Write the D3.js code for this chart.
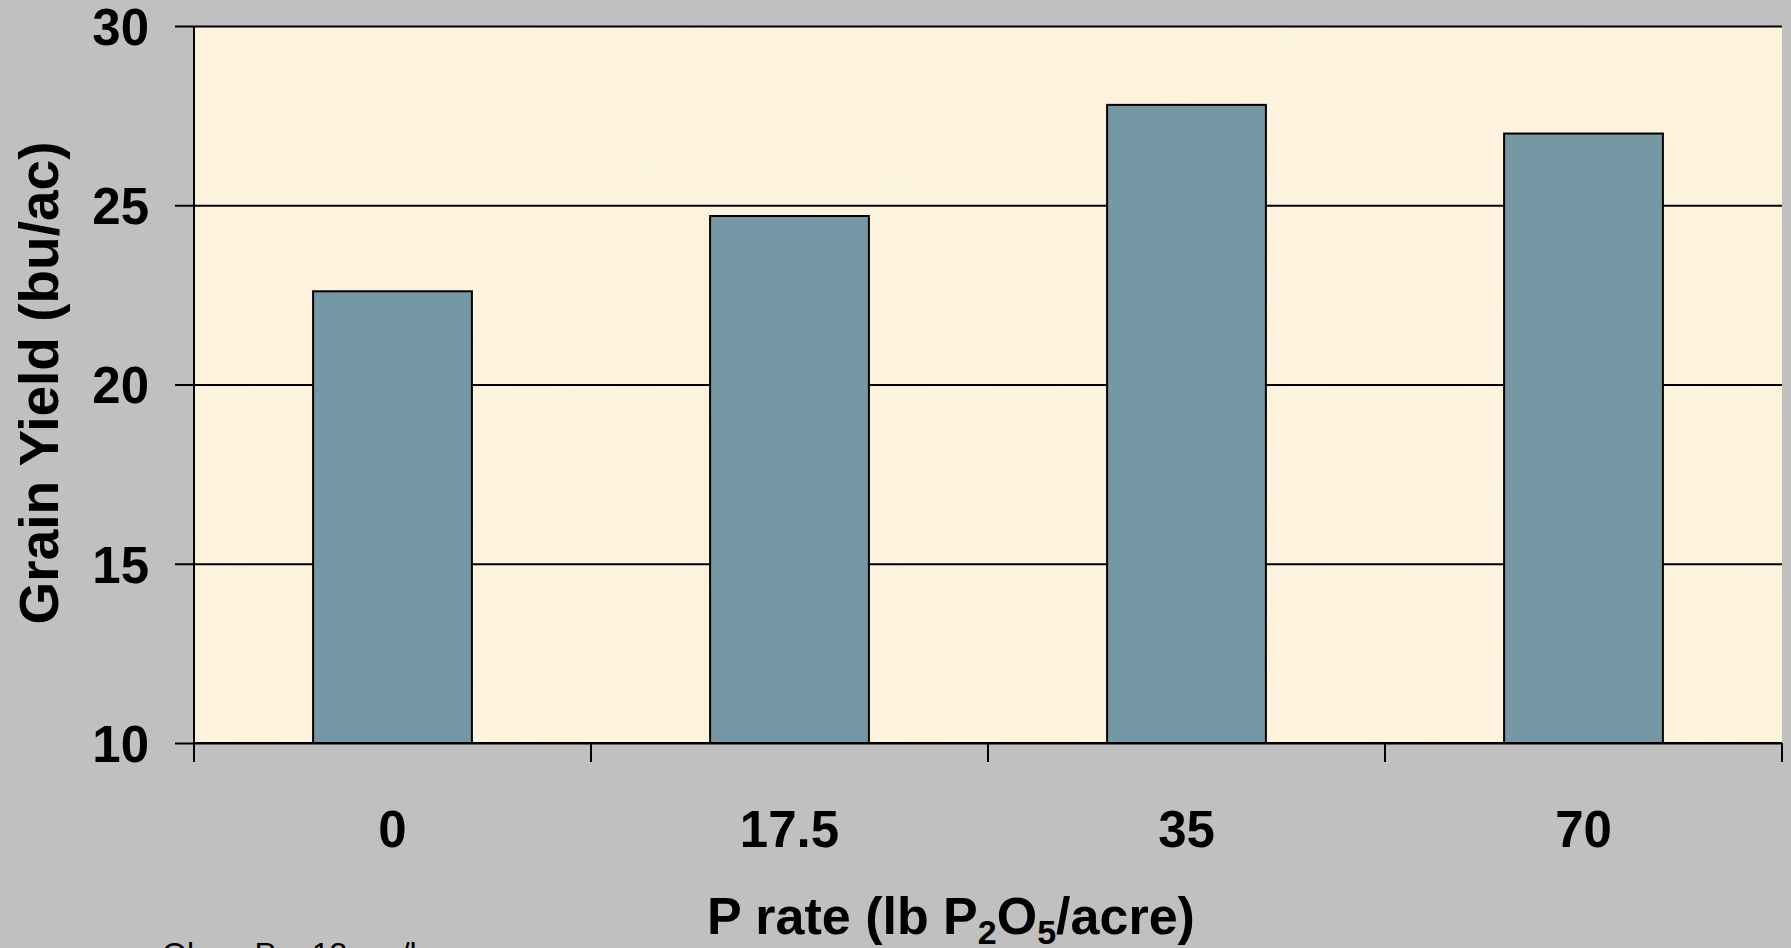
<!DOCTYPE html>
<html>
<head>
<meta charset="utf-8">
<script src="https://cdn.jsdelivr.net/npm/d3@7"></script>
<style>
  html, body { margin: 0; padding: 0; background: #c0c0c0; overflow: hidden; }
  svg { display: block; }
</style>
</head>
<body>
<svg id="chart" width="1791" height="948"></svg>
<script>
const categories = ["0", "17.5", "35", "70"];
const yieldValues = [22.6, 24.7, 27.8, 27.0];
const yTicks = [10, 15, 20, 25, 30];
const yTitle = "Grain Yield (bu/ac)";
const footnote = "Olsen P = 13 mg/kg";

const svg = d3.select("#chart");
const W = 1791, H = 948;
const pLeft = 194, pRight = 1782, pTop = 26, pBottom = 743;
const font = "'Liberation Sans', Arial, Helvetica, sans-serif";

svg.append("rect").attr("width", W).attr("height", H).attr("fill", "#c0c0c0");

const x = d3.scaleBand().domain(categories).range([pLeft, pRight])
  .paddingInner(0.6).paddingOuter(0.3);
const y = d3.scaleLinear().domain([10, 30]).range([pBottom, pTop]);

// parchment-like plot background
const defs = svg.append("defs");
const filt = defs.append("filter").attr("id", "parch").attr("x", 0).attr("y", 0).attr("width", 1).attr("height", 1);
filt.append("feTurbulence").attr("type", "fractalNoise").attr("baseFrequency", 0.015).attr("numOctaves", 3).attr("seed", 4).attr("result", "noise");
filt.append("feColorMatrix").attr("in", "noise").attr("type", "matrix")
  .attr("values", "0 0 0 0 0.97  0 0 0 0 0.90  0 0 0 0 0.76  0 0 0 0.5 -0.1").attr("result", "tint");
filt.append("feComposite").attr("in", "tint").attr("in2", "SourceGraphic").attr("operator", "over");

svg.append("rect").attr("x", pLeft).attr("y", pTop).attr("width", pRight - pLeft).attr("height", pBottom - pTop)
  .attr("fill", "#fdf3dd").attr("filter", "url(#parch)");

// gridlines
const yAxis = d3.axisLeft(y).tickValues(yTicks).tickSize(-(pRight - pLeft)).tickSizeOuter(0).tickFormat(d3.format("d"));
const gy = svg.append("g").attr("transform", `translate(${pLeft},0)`).call(yAxis);
gy.select(".domain").remove();
gy.selectAll(".tick line").attr("stroke", "#000").attr("stroke-width", 2);
gy.selectAll(".tick text").remove();

// outward y ticks + labels
const yAxis2 = d3.axisLeft(y).tickValues(yTicks).tickSize(19).tickPadding(26).tickSizeOuter(0).tickFormat(d3.format("d"));
const gy2 = svg.append("g").attr("transform", `translate(${pLeft},0)`).call(yAxis2);
gy2.select(".domain").remove();
gy2.selectAll(".tick line").attr("stroke", "#000").attr("stroke-width", 2);
gy2.selectAll(".tick text").attr("fill", "#000").attr("font-family", font)
  .attr("font-weight", "bold").attr("font-size", 51).attr("dy", "0.36em");

// bars
svg.append("g").selectAll("rect").data(categories).join("rect")
  .attr("x", d => x(d))
  .attr("width", x.bandwidth())
  .attr("y", (d, i) => y(yieldValues[i]))
  .attr("height", (d, i) => y(10) - y(yieldValues[i]))
  .attr("fill", "#7598a4")
  .attr("stroke", "#000")
  .attr("stroke-width", 2);

// left axis line
svg.append("line").attr("x1", pLeft).attr("x2", pLeft).attr("y1", pTop).attr("y2", pBottom + 19)
  .attr("stroke", "#000").attr("stroke-width", 2);
// bottom axis line
svg.append("line").attr("x1", pLeft).attr("x2", pRight).attr("y1", pBottom).attr("y2", pBottom)
  .attr("stroke", "#000").attr("stroke-width", 2);

// x ticks at band boundaries
const edges = categories.map((c, i) => pLeft + i * x.step()).concat([pRight]);
svg.append("g").selectAll("line").data(edges).join("line")
  .attr("x1", d => d).attr("x2", d => d).attr("y1", pBottom).attr("y2", pBottom + 19)
  .attr("stroke", "#000").attr("stroke-width", 2);

// x labels
svg.append("g").selectAll("text").data(categories).join("text")
  .attr("x", d => x(d) + x.bandwidth() / 2)
  .attr("y", 847)
  .attr("text-anchor", "middle")
  .attr("font-family", font).attr("font-weight", "bold").attr("font-size", 51)
  .attr("fill", "#000")
  .text(d => d);

// x title with subscripts
const xt = svg.append("text").attr("x", 951).attr("y", 934).attr("text-anchor", "middle")
  .attr("font-family", font).attr("font-weight", "bold").attr("font-size", 52).attr("fill", "#000");
xt.append("tspan").text("P rate (lb P");
xt.append("tspan").text("2").attr("font-size", 34).attr("dy", 10);
xt.append("tspan").text("O").attr("dy", -10);
xt.append("tspan").text("5").attr("font-size", 34).attr("dy", 10);
xt.append("tspan").text("/acre)").attr("dy", -10);

// y title
svg.append("text").attr("transform", "translate(58,383) rotate(-90)")
  .attr("text-anchor", "middle")
  .attr("font-family", font).attr("font-weight", "bold").attr("font-size", 55).attr("fill", "#000")
  .text(yTitle);

// footnote (cut off at bottom, as in the source)
svg.append("text").attr("x", 162).attr("y", 965)
  .attr("font-family", font).attr("font-size", 32).attr("fill", "#000")
  .text(footnote);
</script>
</body>
</html>
